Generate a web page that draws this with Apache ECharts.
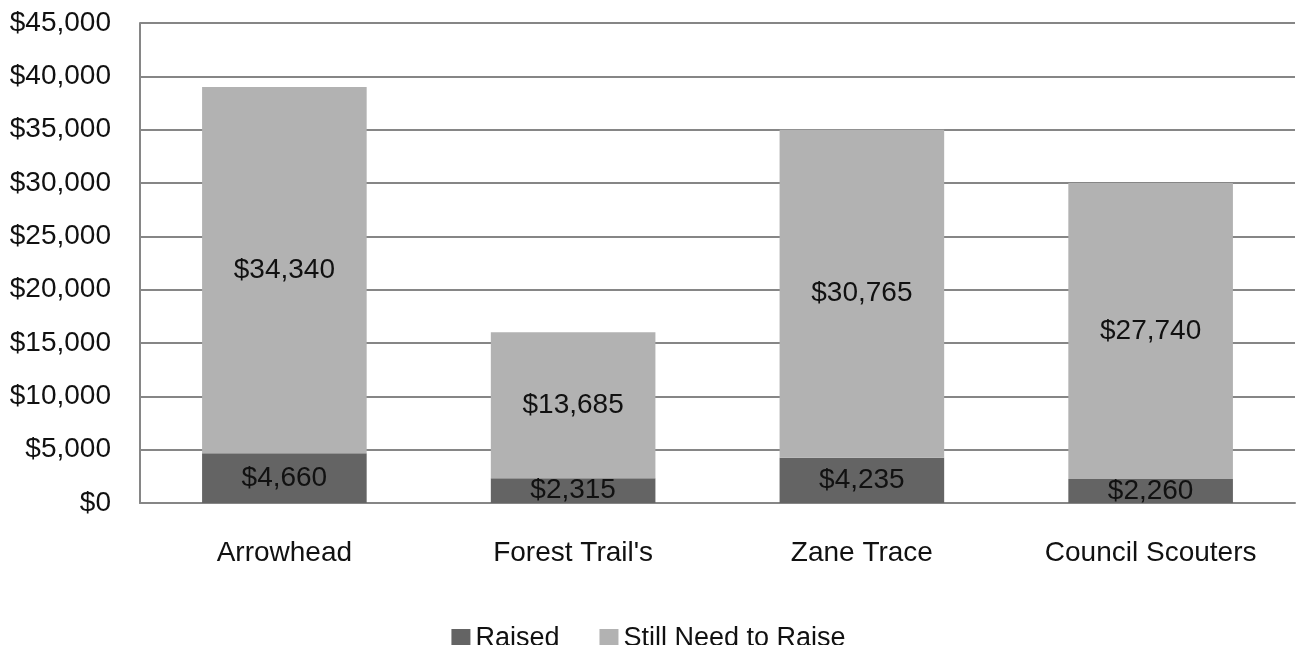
<!DOCTYPE html>
<html>
<head>
<meta charset="utf-8">
<script src="https://cdn.jsdelivr.net/npm/echarts@6/dist/echarts.min.js"></script>
<style>
html,body{margin:0;padding:0;background:#fff;}
#chart{width:1297px;height:645px;}
</style>
</head>
<body>
<div id="chart"></div>
<script>
const categories = ["Arrowhead", "Forest Trail's", "Zane Trace", "Council Scouters"];
const raised = [4660, 2315, 4235, 2260];
const stillNeed = [34340, 13685, 30765, 27740];
const seriesNames = ["Raised", "Still Need to Raise"];

const fmt = v => '$' + Number(v).toLocaleString('en-US');
const FONT = 'Liberation Sans, Arial, sans-serif';

const chart = echarts.init(document.getElementById('chart'), null, {renderer: 'canvas'});
chart.setOption({
  animation: false,
  backgroundColor: '#ffffff',
  grid: {left: 140, right: 2, top: 23, bottom: 142, containLabel: false},
  legend: {
    data: seriesNames,
    bottom: -12,
    left: 'center',
    itemWidth: 19,
    itemHeight: 19,
    itemGap: 40,
    icon: 'rect',
    textStyle: {fontFamily: FONT, fontSize: 27, color: '#111'}
  },
  xAxis: {
    type: 'category',
    data: categories,
    axisLine: {show: true, lineStyle: {color: '#868686', width: 2}},
    axisTick: {show: false},
    axisLabel: {margin: 36, fontFamily: FONT, fontSize: 28, color: '#111'}
  },
  yAxis: {
    type: 'value',
    min: 0,
    max: 45000,
    interval: 5000,
    axisLine: {show: true, lineStyle: {color: '#868686', width: 2}},
    axisTick: {show: false},
    splitLine: {show: true, lineStyle: {color: '#868686', width: 2}},
    axisLabel: {margin: 29, fontFamily: FONT, fontSize: 28, color: '#111', formatter: fmt}
  },
  series: [
    {
      name: seriesNames[0],
      type: 'bar',
      stack: 'total',
      data: raised,
      barCategoryGap: '43%',
      itemStyle: {color: '#646464'},
      label: {show: true, position: 'inside', fontFamily: FONT, fontSize: 28, color: '#111', formatter: p => fmt(p.value)}
    },
    {
      name: seriesNames[1],
      type: 'bar',
      stack: 'total',
      data: stillNeed,
      barCategoryGap: '43%',
      itemStyle: {color: '#b2b2b2'},
      label: {show: true, position: 'inside', fontFamily: FONT, fontSize: 28, color: '#111', formatter: p => fmt(p.value)}
    }
  ]
});
</script>
</body>
</html>
